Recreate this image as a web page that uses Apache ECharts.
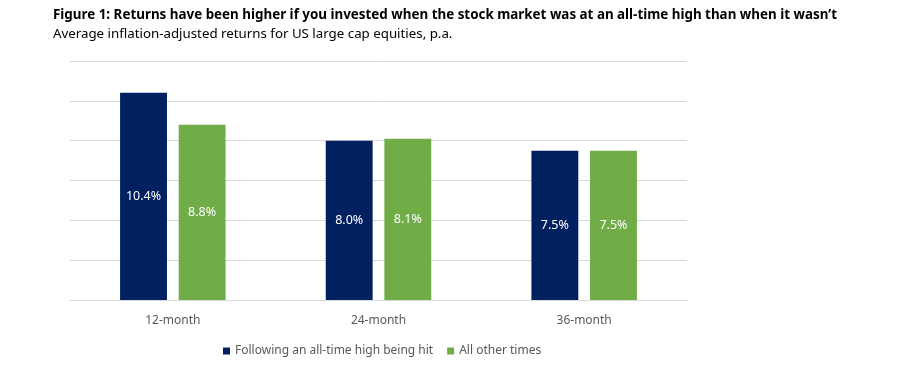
<!DOCTYPE html>
<html><head><meta charset="utf-8">
<script src="https://cdn.jsdelivr.net/npm/echarts@6/dist/echarts.min.js"></script>
<style>html,body{margin:0;padding:0;background:#fff}#c{width:900px;height:366px}</style>
</head><body><div id="c"></div>
<script>
const categories = ['12-month', '24-month', '36-month'];
const athValues = [10.4, 8.0, 7.5];
const otherValues = [8.8, 8.1, 7.5];
const seriesNames = ['Following an all-time high being hit', 'All other times'];
const titleText = 'Figure 1: Returns have been higher if you invested when the stock market was at an all-time high than when it wasn\u2019t';
const subtitleText = 'Average inflation-adjusted returns for US large cap equities, p.a.';

const chart = echarts.init(document.getElementById('c'), null, {renderer: 'canvas'});
const font = '"Noto Sans", "Open Sans", sans-serif';
const lbl = {show: true, position: 'inside', color: '#fff', fontSize: 12.5, fontFamily: font,
  formatter: p => p.value.toFixed(1) + '%'};
chart.setOption({
  animation: false,
  title: [
    {text: titleText, left: 48, top: 4, textStyle: {fontFamily: font, fontWeight: 'bold', fontSize: 13.4, color: '#000'}},
    {text: subtitleText, left: 48, top: 23, textStyle: {fontFamily: font, fontWeight: 'normal', fontSize: 13.3, color: '#000'}}
  ],
  legend: {
    bottom: 4, left: 218, itemWidth: 7, itemHeight: 7, itemGap: 14, icon: 'rect',
    textStyle: {fontFamily: font, fontSize: 12, color: '#595959'},
    data: seriesNames
  },
  grid: {left: 70, right: 213, top: 61, bottom: 66},
  xAxis: {
    type: 'category', data: categories,
    axisLine: {lineStyle: {color: '#d9d9d9', width: 1}},
    axisTick: {show: false},
    axisLabel: {fontFamily: font, fontSize: 12, color: '#595959', margin: 15}
  },
  yAxis: {
    type: 'value', min: 0, max: 12, interval: 2,
    axisLabel: {show: false}, axisLine: {show: false}, axisTick: {show: false},
    splitLine: {lineStyle: {color: '#d9d9d9', width: 1}}
  },
  series: [
    {name: seriesNames[0], type: 'bar', data: athValues, barWidth: '22.8%', barGap: '25%',
      itemStyle: {color: '#002060'}, label: lbl},
    {name: seriesNames[1], type: 'bar', data: otherValues, barWidth: '22.8%',
      itemStyle: {color: '#70AD47'}, label: lbl}
  ]
});
</script></body></html>
